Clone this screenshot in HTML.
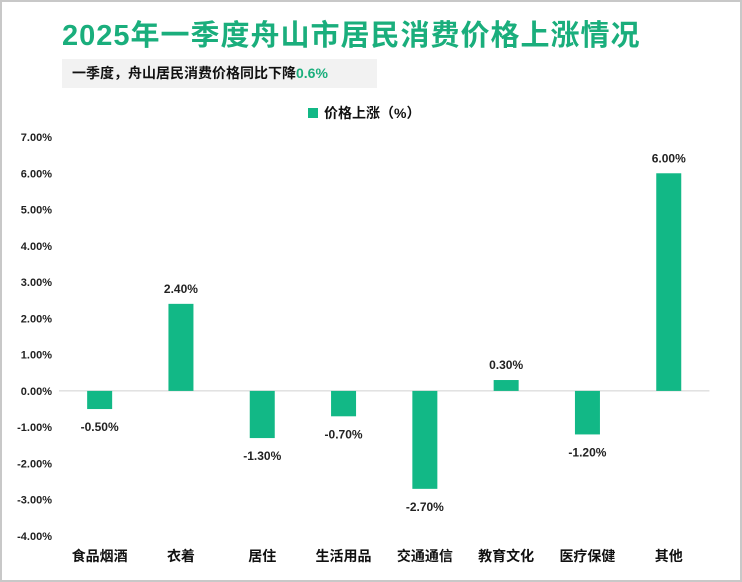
<!DOCTYPE html>
<html><head><meta charset="utf-8"><style>
body{margin:0;width:742px;height:582px;background:#fff;font-family:"Liberation Sans","Noto Sans CJK SC",sans-serif;overflow:hidden}
#frame{position:absolute;left:0;top:0;width:738px;height:578px;border:2px solid #c8c8c8}
#title{position:absolute;left:62px;top:12px;font-size:29px;font-weight:bold;color:#1aae7c;letter-spacing:1px;white-space:nowrap}
#sub{position:absolute;left:62px;top:59px;width:315px;height:29px;background:#f2f2f2;font-size:14px;font-weight:bold;line-height:29px;padding-left:10px;box-sizing:border-box;color:#111;white-space:nowrap}
#sub span{color:#1aae7c}
svg{position:absolute;left:0;top:0}
</style></head><body>
<div id="frame"></div>
<div id="title">2025年一季度舟山市居民消费价格上涨情况</div>
<div id="sub">一季度，舟山居民消费价格同比下降<span>0.6%</span></div>
<svg id="chart" width="742" height="582"></svg>
<script>
const categories=["食品烟酒","衣着","居住","生活用品","交通通信","教育文化","医疗保健","其他"];
const values=[-0.5,2.4,-1.3,-0.7,-2.7,0.3,-1.2,6.0];
const ticks=[7,6,5,4,3,2,1,0,-1,-2,-3,-4];
const NS="http://www.w3.org/2000/svg";
const svg=document.getElementById('chart');
const yTop=137,yBot=536,vMax=7,vMin=-4;
const y=v=>yTop+(vMax-v)*(yBot-yTop)/(vMax-vMin);
const x0=59,step=81.3;
const x=i=>x0+step*(i+0.5);
function mk(t,a){const e=document.createElementNS(NS,t);for(const k in a)e.setAttribute(k,a[k]);svg.appendChild(e);return e;}
ticks.forEach(t=>{
 const e=mk('text',{x:52,y:y(t)+4,'text-anchor':'end','font-size':11,'font-weight':'bold',fill:'#222'});
 e.textContent=t.toFixed(2)+'%';
 
 
});
const ax=mk('line',{x1:x0,x2:x0+step*8,y1:y(0),y2:y(0),stroke:'#d0d0d0','stroke-width':1});


categories.forEach((c,i)=>{
 const v=values[i],w=25;
 const r=mk('rect',{x:x(i)-w/2,y:Math.min(y(v),y(0)),width:w,height:Math.abs(y(v)-y(0)),fill:'#12b886'});
 
 
 const l=mk('text',{x:x(i),y:v>=0?y(v)-11:y(v)+22,'text-anchor':'middle','font-size':12,'font-weight':'bold',fill:'#222'});
 l.textContent=v.toFixed(2)+'%';
 
 
 const cl=mk('text',{x:x(i),y:561,'text-anchor':'middle','font-size':14,'font-weight':'bold',fill:'#111'});
 cl.textContent=c;
 
 
});
const lg=mk('rect',{x:308,y:108,width:10,height:10,fill:'#12b886'});


const lt=mk('text',{x:324,y:118,'font-size':14,'font-weight':'bold',fill:'#111'});
lt.textContent='价格上涨（%）';


</script>
</body></html>
